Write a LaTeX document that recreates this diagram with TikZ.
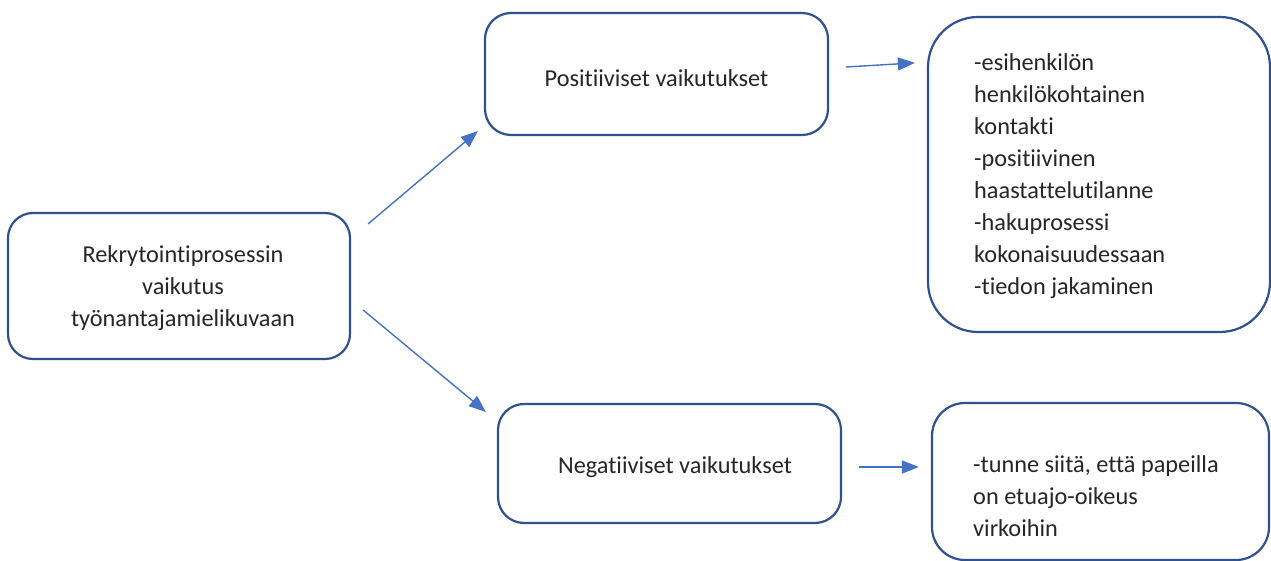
\documentclass[tikz,border=0pt]{standalone}
\usepackage{fontspec}
\setmainfont{Carlito}[Ligatures={NoCommon}]
\usetikzlibrary{arrows.meta}
\definecolor{boxline}{HTML}{2F528F}
\definecolor{arrowblue}{HTML}{4472C4}
\definecolor{txt}{HTML}{262626}
\begin{document}
\begin{tikzpicture}[x=1pt,y=-1pt,
  box/.style={draw=boxline, line width=2.2pt, rectangle, inner sep=0pt},
  label text/.style={inner sep=0pt, text=txt, font=\fontsize{24.3}{32}\selectfont},
  arr/.style={draw=arrowblue, line width=1.4pt, -{Triangle[length=17pt,width=13pt]}, arrowblue}]
  \useasboundingbox (0,0) rectangle (1271,561);

  % boxes
  \node[box, rounded corners=25pt, minimum width=342pt, minimum height=146pt] (src) at (179,286) {};
  \node[box, rounded corners=26pt, minimum width=343pt, minimum height=122pt] (pos) at (656.5,74) {};
  \node[box, rounded corners=26pt, minimum width=343pt, minimum height=119pt] (neg) at (669.5,463.5) {};
  \node[box, rounded corners=50pt, minimum width=342pt, minimum height=315pt] (posl) at (1099,174.5) {};
  \node[box, rounded corners=33pt, minimum width=337pt, minimum height=157pt] (negl) at (1100.5,481.5) {};

  % texts
  \node[label text, align=center, anchor=north] (srct) at (183,239.6)
    {\strut Rekrytointiprosessin\\vaikutus\\työnantajamielikuvaan};
  \node[label text, anchor=base] (post) at (656.5,87) {Positiiviset vaikutukset};
  \node[label text, anchor=base] (negt) at (675,473) {Negatiiviset vaikutukset};
  \node[label text, align=left, anchor=north west] (poslt) at (974,47.6)
    {\strut -esihenkilön\\henkilökohtainen\\kontakti\\-positiivinen\\haastattelutilanne\\-hakuprosessi\\kokonaisuudessaan\\-tiedon jakaminen};
  \node[label text, align=left, anchor=north west] (neglt) at (973,449.6)
    {\strut -tunne siitä, että papeilla\\on etuajo-oikeus\\virkoihin};

  % connectors
  \draw[arr] ([shift={(17,12)}]src.north east) -- ([shift={(-6,-5)}]pos.south west);
  \draw[arr] ([shift={(12,24)}]src.east) -- ([shift={(-11,9)}]neg.north west);
  \draw[arr] ([shift={(17,-7)}]pos.east) -- ([shift={(-12,47)}]posl.north west);
  \draw[arr] ([shift={(17,3.5)}]neg.east) -- ([shift={(-12,-14.5)}]negl.west);
\end{tikzpicture}
\end{document}
